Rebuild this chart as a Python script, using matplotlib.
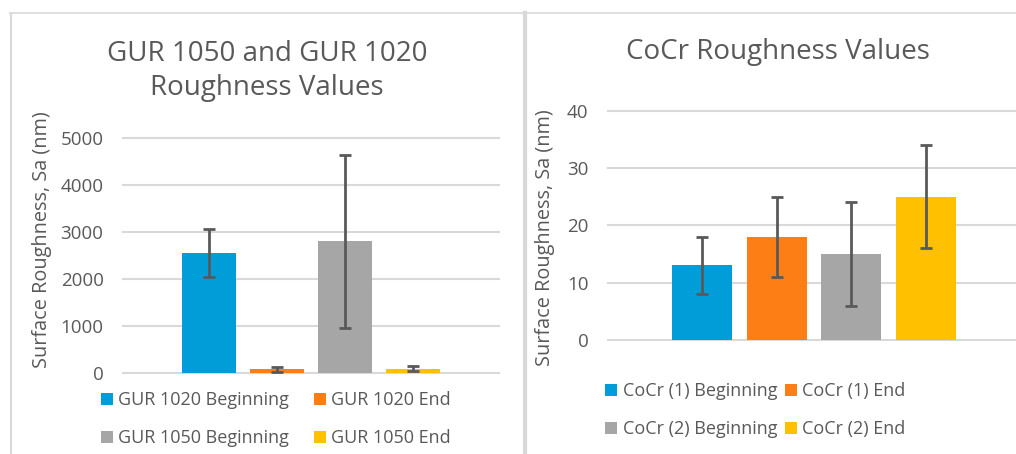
import numpy as np
import matplotlib
matplotlib.use("Agg")
import matplotlib.pyplot as plt
from matplotlib.lines import Line2D

# data
gur_labels = ["GUR 1020 Beginning", "GUR 1020 End", "GUR 1050 Beginning", "GUR 1050 End"]
gur_values = [2550, 75, 2800, 95]
gur_err = [515, 45, 1840, 50]

cocr_labels = ["CoCr (1) Beginning", "CoCr (1) End", "CoCr (2) Beginning", "CoCr (2) End"]
cocr_values = [13, 18, 15, 25]
cocr_err = [5, 7, 9, 9]

colors = ["#009DD9", "#FD7E14", "#A6A6A6", "#FFC000"]
txt = "#595959"
grid = "#D9D9D9"

plt.rcParams['font.family'] = ['Open Sans', 'DejaVu Sans']

W, H = 1016, 454
fig = plt.figure(figsize=(W / 100, H / 100), dpi=100)

def px_axes(x0, x1, y_top, y_bot):
    return fig.add_axes([x0 / W, 1 - y_bot / H, (x1 - x0) / W, (y_bot - y_top) / H])

def draw(ax, labels, values, err, yticks, half_span, width):
    x = np.arange(len(values))
    bars = []
    for i in range(len(values)):
        b = ax.bar(x[i], values[i], width=width, color=colors[i], label=labels[i], zorder=3,
                   yerr=err[i], error_kw=dict(ecolor=txt, elinewidth=2, capsize=4.5, capthick=2, zorder=4))
        bars.append(b)
    ax.set_xlim(1.5 - half_span, 1.5 + half_span)
    ax.set_ylim(yticks[0], yticks[-1])
    for t in yticks:
        ax.axhline(t, color=grid, lw=1.5, zorder=1, clip_on=False)
    ax.set_yticks(yticks)
    ax.set_xticks([])
    ax.tick_params(axis='y', length=0, pad=14, labelsize=13.5, labelcolor=txt)
    for s in ax.spines.values():
        s.set_visible(False)
    ax.patch.set_alpha(0)
    return bars

# left chart
ax1 = px_axes(123, 499, 138, 373)
b1 = draw(ax1, gur_labels, gur_values, gur_err, [0, 1000, 2000, 3000, 4000, 5000], 2.765, 0.79)

# right chart
ax2 = px_axes(608, 1020, 110.7, 340)
b2 = draw(ax2, cocr_labels, cocr_values, cocr_err, [0, 10, 20, 30, 40], 2.758, 0.80)

# titles
fig.text(267 / W, 1 - 71 / H, "GUR 1050 and GUR 1020\nRoughness Values", ha='center', va='center',
         fontsize=20, color=txt, linespacing=1.3)
fig.text(777.7 / W, 1 - 52 / H, "CoCr Roughness Values", ha='center', va='center', fontsize=20, color=txt)

# axis labels
fig.text(42 / W, 1 - 240 / H, "Surface Roughness, Sa (nm)", rotation=90, ha='center', va='center',
         fontsize=14.3, color=txt)
fig.text(545 / W, 1 - 238 / H, "Surface Roughness, Sa (nm)", rotation=90, ha='center', va='center',
         fontsize=14.3, color=txt)

# legends, row-major order like Excel
order = [0, 2, 1, 3]
for bars, labels, cx, cy, csp in [(b1, gur_labels, 276, 419, 1.4), (b2, cocr_labels, 755.5, 410, 0.45)]:
    leg = fig.legend([bars[i] for i in order], [labels[i] for i in order], ncol=2, loc='center',
                     bbox_to_anchor=(cx / W, 1 - cy / H), frameon=False, fontsize=13,
                     handlelength=0.65, handleheight=0.65, handletextpad=0.3, columnspacing=csp,
                     labelspacing=1.1, borderaxespad=0)
    for t in leg.get_texts():
        t.set_color(txt)

# chart frames
fig.add_artist(Line2D([10 / W, 1], [1 - 12.5 / H] * 2, color=grid, lw=1.2))
fig.add_artist(Line2D([11 / W] * 2, [0, 1 - 12.5 / H], color=grid, lw=1.5))
fig.add_artist(Line2D([525 / W] * 2, [0, 1 - 12.5 / H], color=grid, lw=3))

fig.savefig("out.png", dpi=100)
